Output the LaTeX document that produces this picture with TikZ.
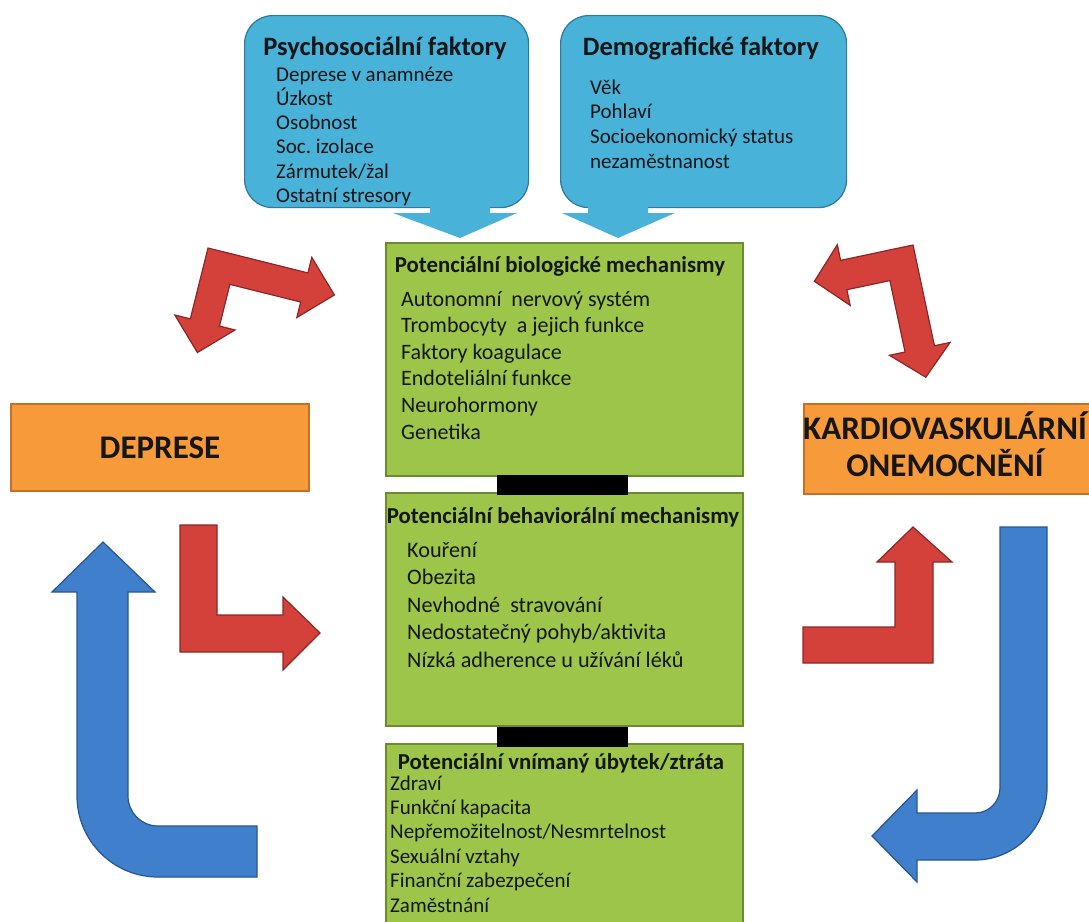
\documentclass[tikz,border=0pt]{standalone}
\usepackage{fontspec}
\setmainfont{Carlito}
\frenchspacing
\definecolor{tealF}{RGB}{72,178,217}
\definecolor{tealD}{RGB}{44,122,158}
\definecolor{greenF}{RGB}{156,197,74}
\definecolor{greenD}{RGB}{108,138,50}
\definecolor{orangeF}{RGB}{247,154,58}
\definecolor{orangeD}{RGB}{196,112,42}
\definecolor{redF}{RGB}{212,65,59}
\definecolor{redD}{RGB}{138,40,37}
\definecolor{blueF}{RGB}{63,127,203}
\definecolor{blueD}{RGB}{40,86,146}
\definecolor{txtC}{RGB}{22,22,22}
\begin{document}
\begin{tikzpicture}[x=1pt,y=-1pt,
  callbox/.style={draw=tealD,fill=tealF,line width=1.2pt,rounded corners=28pt,anchor=north west,inner sep=0pt},
  pointer/.style={fill=tealF},
  gbox/.style={draw=greenD,fill=greenF,line width=2pt,anchor=north west,inner sep=0pt},
  obox/.style={draw=orangeD,fill=orangeF,line width=1.5pt,anchor=north west,inner sep=0pt},
  bar/.style={fill=black,draw=none,anchor=north west,inner sep=0pt},
  redarrow/.style={fill=redF,draw=redD,line width=1.2pt,line join=miter},
  bluearrow/.style={fill=blueF,draw=blueD,line width=1.2pt,line join=miter},
  ttl/.style={anchor=base,inner sep=0pt,text=txtC,font=\bfseries\fontsize{22.8}{26}\selectfont},
  ctl/.style={anchor=base,inner sep=0pt,text=txtC,font=\bfseries\fontsize{26.5}{30}\selectfont},
  itm/.style={anchor=base west,inner sep=0pt,text=txtC},
  big/.style={anchor=base,inner sep=0pt,text=txtC,font=\bfseries\fontsize{33}{38}\selectfont}]
\useasboundingbox (0,0) rectangle (1089,921);
\clip (0,0) rectangle (1089,921);
\fill[white] (0,0) rectangle (1089,921);

% callouts
\node[callbox,minimum width=284pt,minimum height=192pt] (psy) at (244,15) {};
\node[callbox,minimum width=286pt,minimum height=192pt] (dem) at (560,15) {};
\fill[pointer] (430,203) -- (490,203) -- (490,213) -- (517,213) -- (460,238) -- (393,213) -- (430,213) -- cycle;
\fill[pointer] (588,203) -- (648,203) -- (648,213) -- (675,213) -- (618,238) -- (562,213) -- (588,213) -- cycle;

% green boxes
\node[gbox,minimum width=357pt,minimum height=233pt] (bio) at (385,242) {};
\node[gbox,minimum width=357pt,minimum height=233pt] (beh) at (385,492) {};
\node[gbox,minimum width=357pt,minimum height=200pt] (loss) at (385,743) {};
\node[bar,minimum width=131pt,minimum height=20pt] (bar1) at (497,475) {};
\node[bar,minimum width=131pt,minimum height=20pt] (bar2) at (497,727) {};

% orange boxes
\node[obox,minimum width=298pt,minimum height=87pt] (dep) at (10,403) {};
\node[obox,minimum width=300pt,minimum height=90pt] (kvo) at (803,403) {};

% red arrows
\begin{scope}[shift={(208,248)},rotate=-14]
\draw[redarrow] (0,0) -- (103,0) -- (103,-16) -- (134,15) -- (103,46) -- (103,30) -- (30,30) -- (30,73) -- (46,73) -- (15,104) -- (-16,73) -- (0,73) -- cycle;
\end{scope}
\begin{scope}[shift={(913,245)},rotate=12,xscale=-1]
\draw[redarrow] (0,0) -- (74,0) -- (74,-16) -- (104,15) -- (74,46) -- (74,30) -- (30,30) -- (30,103) -- (46,103) -- (15,132) -- (-16,103) -- (0,103) -- cycle;
\end{scope}
\draw[redarrow] (180,525) -- (217,525) -- (217,615) -- (283,615) -- (283,597) -- (320,633) -- (283,670) -- (283,652) -- (180,652) -- cycle;
\draw[redarrow] (803,627) -- (895,627) -- (895,562) -- (877,562) -- (913,527) -- (952,562) -- (933,562) -- (933,663) -- (803,663) -- cycle;

% blue arrows
\draw[bluearrow] (128,592) -- (128,796) arc[start angle=180,end angle=90,radius=30] -- (257,826) -- (257,877) -- (158,877) arc[start angle=90,end angle=180,radius=81] -- (77,592) -- (52,592) -- (103,542) -- (155,592) -- cycle;
\draw[bluearrow] (1000,527) -- (1047,527) -- (1047,788) arc[start angle=0,end angle=90,radius=72] -- (917,860) -- (917,882) -- (872,836) -- (917,790) -- (917,813) -- (975,813) arc[start angle=90,end angle=0,radius=25] -- cycle;

% texts: callouts
\node[ctl] (psyT) at (385,55) {Psychosociální faktory};
\foreach \t [count=\i] in {Deprese v anamnéze,Úzkost,Osobnost,Soc. izolace,Zármutek/žal,Ostatní stresory}
  \node[itm,font=\fontsize{21}{24}\selectfont] (psy\i) at (276,81+24.3*\i-24.3) {\t};
\node[ctl] (demT) at (701,55) {Demografické faktory};
\foreach \t [count=\i] in {Věk,Pohlaví,Socioekonomický status,nezaměstnanost}
  \node[itm,font=\fontsize{21}{24}\selectfont] (dem\i) at (590,94+24.7*\i-24.7) {\t};

% texts: green boxes
\node[ttl] (bioT) at (560,272) {Potenciální biologické mechanismy};
\foreach \t [count=\i] in {Autonomní\ \ nervový systém,Trombocyty\ \ a jejich funkce,Faktory koagulace,Endoteliální funkce,Neurohormony,Genetika}
  \node[itm,font=\fontsize{22}{26}\selectfont] (bio\i) at (401,306+26.6*\i-26.6) {\t};
\node[ttl] (behT) at (563,523) {Potenciální behaviorální mechanismy};
\foreach \t [count=\i] in {Kouření,Obezita,Nevhodné\ \ stravování,Nedostatečný pohyb/aktivita,Nízká adherence u užívání léků}
  \node[itm,font=\fontsize{22.2}{26}\selectfont] (beh\i) at (407,557+27.5*\i-27.5) {\t};
\node[ttl] (lossT) at (561,769) {Potenciální vnímaný úbytek/ztráta};
\foreach \t [count=\i] in {Zdraví,Funkční kapacita,Nepřemožitelnost/Nesmrtelnost,Sexuální vztahy,Finanční zabezpečení,Zaměstnání}
  \node[itm,font=\fontsize{21}{24}\selectfont] (loss\i) at (390,790+24.4*\i-24.4) {\t};

% texts: orange boxes
\node[big] (depT) at (160,458) {DEPRESE};
\node[big] (kvoT1) at (945,439) {KARDIOVASKULÁRNÍ};
\node[big] (kvoT2) at (945,476) {ONEMOCNĚNÍ};
\end{tikzpicture}
\end{document}
